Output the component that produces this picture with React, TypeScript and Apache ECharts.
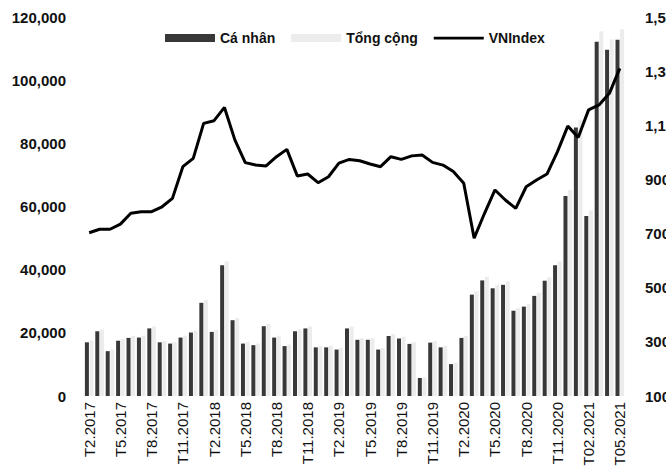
import React, { useEffect, useRef } from 'react';
import * as echarts from 'echarts';

const categories = [
  'T2.2017', 'T3.2017', 'T4.2017', 'T5.2017', 'T6.2017', 'T7.2017', 'T8.2017', 'T9.2017', 'T10.2017', 'T11.2017', 'T12.2017',
  'T1.2018', 'T2.2018', 'T3.2018', 'T4.2018', 'T5.2018', 'T6.2018', 'T7.2018', 'T8.2018', 'T9.2018', 'T10.2018', 'T11.2018', 'T12.2018',
  'T1.2019', 'T2.2019', 'T3.2019', 'T4.2019', 'T5.2019', 'T6.2019', 'T7.2019', 'T8.2019', 'T9.2019', 'T10.2019', 'T11.2019', 'T12.2019',
  'T1.2020', 'T2.2020', 'T3.2020', 'T4.2020', 'T5.2020', 'T6.2020', 'T7.2020', 'T8.2020', 'T9.2020', 'T10.2020', 'T11.2020', 'T12.2020',
  'T01.2021', 'T02.2021', 'T03.2021', 'T04.2021', 'T05.2021',
];

const caNhan = [
  17000, 20500, 14200, 17500, 18400, 18500, 21400, 17000, 16600, 18500, 20100,
  29500, 20300, 41400, 24000, 16600, 16100, 22100, 18500, 15800, 20500, 21400, 15400,
  15400, 14700, 21400, 17800, 17800, 14700, 19000, 18200, 16500, 5700, 16900, 15400,
  10100, 18400, 32100, 36600, 34100, 35200, 27000, 28300, 31700, 36500, 41400, 63300,
  85000, 57000, 112200, 109600, 112800,
];

const tongCong = [
  17600, 21100, 14700, 18000, 19000, 19100, 22000, 17500, 17100, 19100, 20700,
  30400, 20900, 42600, 24700, 17100, 16600, 22800, 19100, 16300, 21100, 22000, 15900,
  15900, 15200, 22000, 18300, 18300, 15200, 19600, 18800, 17000, 5900, 17400, 15900,
  10400, 19000, 33100, 37700, 35100, 36300, 27800, 29200, 32700, 37600, 42600, 65200,
  87500, 58700, 115500, 112900, 116100,
];

const vnIndex = [
  703, 716, 716, 735, 775, 781, 781, 799, 830, 947, 978,
  1107, 1117, 1166, 1046, 962, 953, 950, 984, 1011, 913, 920, 888,
  910, 960, 974, 969, 957, 947, 984, 974, 987, 990, 963, 953,
  929, 886, 683, 775, 861, 824, 793, 873, 898, 920, 1002, 1097,
  1055, 1157, 1175, 1218, 1310,
];

const FONT = '"Liberation Sans", Arial, sans-serif';
const LINE_ICON = 'path://M0,0h0.01v0.01h-0.01z M0,2.8h50v2.6h-50z M49.99,7.99h0.01v0.01h-0.01z';

export default function App() {
  const ref = useRef<HTMLDivElement>(null);
  useEffect(() => {
    document.body.style.margin = '0';
    const chart = echarts.init(ref.current!, null, { renderer: 'svg' });
    const fmt = (v: number) => v.toLocaleString('en-US');
    chart.setOption({
      animation: false,
      backgroundColor: '#ffffff',
      textStyle: { fontFamily: FONT },
      legend: {
        left: 160,
        top: 26,
        itemWidth: 50,
        itemHeight: 8,
        itemGap: 16,
        textStyle: { fontSize: 14, fontWeight: 'bold', color: '#111', fontFamily: FONT },
        data: [
          { name: 'Cá nhân', icon: 'rect' },
          { name: 'Tổng cộng', icon: 'rect' },
          { name: 'VNIndex', icon: LINE_ICON, itemStyle: { color: '#000' } },
        ],
      },
      grid: { left: 84, right: 41, top: 17, bottom: 79, outerBoundsMode: 'none', containLabel: false },
      xAxis: {
        type: 'category',
        data: categories,
        axisLine: { show: false },
        axisTick: { show: false },
        axisLabel: {
          rotate: 90,
          interval: 2,
          margin: 6,
          fontSize: 15,
          color: '#111',
          fontFamily: FONT,
        },
      },
      yAxis: [
        {
          type: 'value',
          min: 0,
          max: 120000,
          interval: 20000,
          axisLine: { show: false },
          axisTick: { show: false },
          splitLine: { show: false },
          axisLabel: { formatter: fmt, fontSize: 15, fontWeight: 'bold', color: '#111', margin: 18, fontFamily: FONT },
        },
        {
          type: 'value',
          min: 100,
          max: 1500,
          interval: 200,
          axisLine: { show: false },
          axisTick: { show: false },
          splitLine: { show: false },
          axisLabel: { formatter: fmt, fontSize: 15, fontWeight: 'bold', color: '#111', margin: 20, fontFamily: FONT },
        },
      ],
      series: [
        {
          name: 'Cá nhân',
          type: 'bar',
          data: caNhan,
          barWidth: 4,
          barGap: '15%',
          itemStyle: { color: '#383838' },
        },
        {
          name: 'Tổng cộng',
          type: 'bar',
          data: tongCong,
          barWidth: 4,
          itemStyle: { color: '#ececec' },
        },
        {
          name: 'VNIndex',
          type: 'line',
          yAxisIndex: 1,
          data: vnIndex,
          symbol: 'none',
          lineStyle: { color: '#000', width: 3 },
          itemStyle: { color: '#000' },
          z: 5,
        },
      ],
    });
    return () => chart.dispose();
  }, []);
  return <div ref={ref} style={{ width: 666, height: 475 }} />;
}
